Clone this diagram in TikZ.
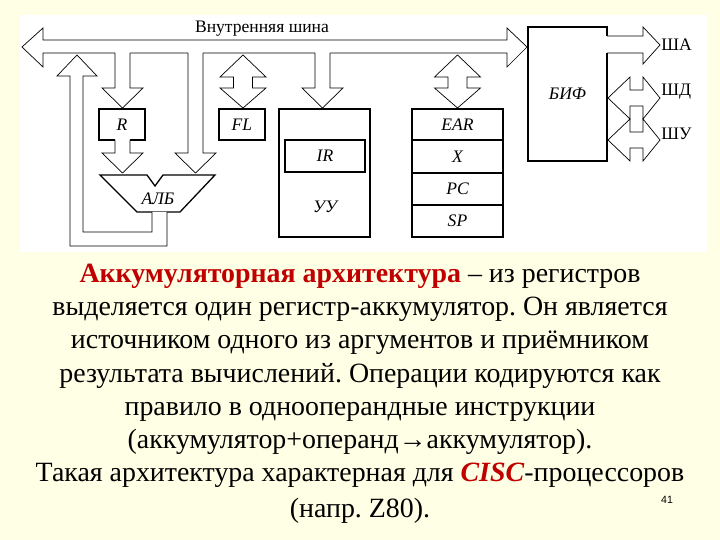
\documentclass[tikz,border=0pt]{standalone}
\usepackage{fontspec}
\setmainfont{Liberation Serif}
\newfontfamily\tms{Liberation Serif}
\setsansfont{Liberation Sans}
\definecolor{bg}{HTML}{FFFFE6}
\definecolor{rd}{HTML}{C00000}
\frenchspacing
\begin{document}
\begin{tikzpicture}[x=0.03cm,y=-0.03cm,
  hol/.style={draw=black,fill=white,line width=0.6pt,line join=miter},
  box/.style={draw=black,line width=1.1pt,fill=white,inner sep=0pt},
  lab/.style={font=\tms\fontsize{15}{15}\selectfont\itshape},
  txt/.style={font=\tms\fontsize{23.8}{23.8}\selectfont,anchor=base}]
\fill[bg] (0,0) rectangle (720,540);
\useasboundingbox (0,0) rectangle (720,540);
\fill[white] (20,15) rectangle (707,252);
% bus
\path[hol] (22,47) -- (43,28) -- (43,40) -- (507,40) -- (507,28) -- (527,47) -- (507,67) -- (507,53) -- (43,53) -- (43,67) -- cycle;
\node[font=\tms\fontsize{15}{15}\selectfont] (bus) at (262,29) {Внутренняя шина};
% boxes
\node[box,minimum width=46*0.03cm,minimum height=31*0.03cm,lab] (R) at (122,124.5) {R};
\node[box,minimum width=46*0.03cm,minimum height=31*0.03cm,lab] (FL) at (242,124.5) {FL};
\node[box,minimum width=91*0.03cm,minimum height=128*0.03cm] (UU) at (324.5,173) {};
\node[box,minimum width=80*0.03cm,minimum height=32*0.03cm,lab] (IR) at (325,156) {IR};
\node[lab] (uut) at (325,207) {УУ};
\foreach \a/\b/\t [count=\i] in {109/140/EAR,140/173/X,173/205/PC,205/237/SP}
  \node[box,minimum width=91*0.03cm,minimum height={(\b-\a)*0.03cm},lab] (S\i) at (457.5,{(\a+\b)/2}) {\t};
\node[box,minimum width=79*0.03cm,minimum height=134*0.03cm,lab] (BIF) at (567.5,94) {БИФ};
% down arrows
\foreach \c/\ya/\yb in {122.5/53/108,122.5/140/173,195.5/53/173,322.5/53/108}{
  \fill[white] (\c-7.5,\ya-0.5) rectangle (\c+7.5,\yb-20);
  \draw[hol] (\c-7.5,\ya) -- (\c-7.5,\yb-20) -- (\c-20.5,\yb-20) -- (\c,\yb) -- (\c+20.5,\yb-20) -- (\c+7.5,\yb-20) -- (\c+7.5,\ya);
}
% ALU
\path[hol,line width=1.1pt] (100,175) -- (147,175) -- (155,186) -- (163,175) -- (215,175) -- (180,212) -- (137,212) -- cycle;
\node[lab] (ALU) at (158,199) {АЛБ};
% feedback
\fill[white] (70,76) rectangle (83,232);
\draw[hol] (167,212) -- (167,246) -- (70,246) -- (70,76) -- (57,76) -- (77,55) -- (97,76) -- (83,76) -- (83,232) -- (152,232) -- (152,212);
% vertical double arrows
\foreach \c in {243,457.5}{
  \path[hol] (\c,55) -- (\c+23,77) -- (\c+9.5,77) -- (\c+9.5,88) -- (\c+23,88) -- (\c,108) -- (\c-23,88) -- (\c-9.5,88) -- (\c-9.5,77) -- (\c-23,77) -- cycle;
}
% SHA
\fill[white] (606,36) rectangle (643,53);
\draw[hol] (607,36) -- (643,36) -- (643,27) -- (660,45) -- (643,64) -- (643,53) -- (607,53);
\node[anchor=west,font=\tms\fontsize{15}{15}\selectfont,inner sep=1pt] (SHA) at (660,45) {ША};
% SHD, SHU
\foreach \y/\t/\n in {98/ШД/SHD,140/ШУ/SHU}{
  \path[hol] (608,\y) -- (630,\y-21) -- (630,\y-8) -- (643,\y-8) -- (643,\y-21) -- (660,\y) -- (643,\y+21) -- (643,\y+8) -- (630,\y+8) -- (630,\y+21) -- cycle;
  \node[anchor=west,font=\tms\fontsize{15}{15}\selectfont,inner sep=1pt] (\n) at (660,\y-6) {\t};
}
% text
\node[txt] (t1) at (360,283) {\textcolor{rd}{\textbf{Аккумуляторная архитектура}} – из регистров};
\node[txt] (t2) at (360,316) {выделяется один регистр-аккумулятор. Он является};
\node[txt] (t3) at (360,349) {источником одного из аргументов и приёмником};
\node[txt] (t4) at (360,382) {результата вычислений. Операции кодируются как};
\node[txt] (t5) at (360,415) {правило в однооперандные инструкции};
\node[txt] (t6) at (360,448) {(аккумулятор+операнд→аккумулятор).};
\node[txt] (t7) at (360,481) {Такая архитектура характерная для \textcolor{rd}{\textbf{\textit{CISC}}}-процессоров};
\node[txt] (t8) at (360,517) {(напр. Z80).};
\node[font=\sffamily\fontsize{9}{9}\selectfont] (pg) at (667,500) {41};
\end{tikzpicture}
\end{document}
